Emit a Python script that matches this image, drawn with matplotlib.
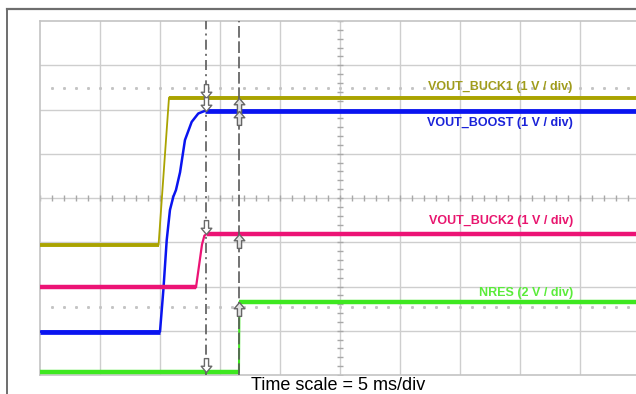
import numpy as np
import matplotlib
matplotlib.use("Agg")
import matplotlib.pyplot as plt
from matplotlib.path import Path
from matplotlib.lines import Line2D

# time in ms (5 ms/div), level in divisions (0 = bottom graticule line)
buck1_t = [0.0, 9.88, 10.75, 50.0]
buck1_v = [2.94, 2.94, 6.27, 6.27]

boost_t = [0.0, 10.0, 10.28, 10.56, 10.83, 11.11, 11.33, 11.67, 12.08, 12.64, 13.19, 13.75, 50.0]
boost_v = [0.98, 0.98, 1.92, 3.05, 3.73, 4.03, 4.18, 4.58, 5.31, 5.72, 5.91, 5.97, 5.97]

buck2_t = [0.0, 13.0, 13.5, 13.7, 13.9, 50.0]
buck2_v = [1.98, 1.98, 2.95, 3.15, 3.19, 3.19]

nres_t = [0.0, 16.58, 16.62, 50.0]
nres_v = [0.06, 0.06, 1.65, 1.65]

cursor1 = 13.83
cursor2 = 16.55
ref_levels = [6.49, 1.54]

labels = ["VOUT_BUCK1 (1 V / div)", "VOUT_BOOST (1 V / div)",
          "VOUT_BUCK2 (1 V / div)", "NRES (2 V / div)"]
label_y = [6.51, 5.69, 3.48, 1.85]

c_buck1 = "#aaa300"
c_boost = "#0a14f0"
c_buck2 = "#ec1375"
c_nres = "#3ee820"
lbl_colors = ["#a09c1c", "#1a22d8", "#e8156e", "#5aec3a"]

plt.rcParams["font.family"] = ["Liberation Sans", "DejaVu Sans"]

fig = plt.figure(figsize=(6.36, 3.94), dpi=100)
W, H = 636, 394
ax = fig.add_axes([40 / W, 19 / H, 600 / W, 354 / H])
ax.set_xlim(0, 50)
ax.set_ylim(0, 8)
ax.set_xticks([])
ax.set_yticks([])
for s in ax.spines.values():
    s.set_color("#c4c4c4")
    s.set_linewidth(1.2)

grid_c = "#cecece"
for x in np.arange(5, 50, 5):
    ax.axvline(x, color=grid_c, lw=1, zorder=1)
for y in np.arange(1, 8):
    ax.axhline(y, color=grid_c, lw=1, zorder=1)

# minor ticks on the centre cross
xt = np.arange(0, 51, 1.0)
ax.plot(xt, np.full_like(xt, 4.0), ls="none", marker="|", ms=4.5, mew=1, color="#a8a8a8", zorder=1)
yt = np.arange(0, 8.01, 0.2)
ax.plot(np.full_like(yt, 25.0), yt, ls="none", marker="_", ms=5, mew=1, color="#a8a8a8", zorder=1)

# dotted reference levels
for lv in ref_levels:
    ax.plot(xt[1:], np.full(len(xt) - 1, lv), ls="none", marker="s", ms=1.1, color="#c4c4c4", zorder=1)

# traces: thin edges, thick flat parts
traces = [(buck1_t, buck1_v, c_buck1, 2.8, 1.3),
          (boost_t, boost_v, c_boost, 3.4, 1.8),
          (buck2_t, buck2_v, c_buck2, 3.2, 1.6),
          (nres_t, nres_v, c_nres, 3.2, 1.5)]
for t, v, c, lw_flat, lw_edge in traces:
    ax.plot(t, v, color=c, lw=lw_edge, zorder=3, solid_joinstyle="round")
    ax.plot(t[:2], v[:2], color=c, lw=lw_flat, zorder=3, solid_capstyle="butt")
    ax.plot(t[-2:], v[-2:], color=c, lw=lw_flat, zorder=3, solid_capstyle="butt")

# cursors
ax.plot([cursor1, cursor1], [0, 8], color="#5a5a5a", lw=1.2, dashes=(6, 2.5, 1.2, 2.5), zorder=4)
ax.plot([cursor2, cursor2], [0, 8], color="#5a5a5a", lw=1.2, dashes=(7, 2.2), zorder=4)

# block arrow markers, tip at the data point
down = Path([(0, 0), (-0.38, 0.45), (-0.15, 0.45), (-0.15, 1.0), (0.15, 1.0),
             (0.15, 0.45), (0.38, 0.45), (0, 0)], closed=True)
up = Path([(x, -y) for x, y in down.vertices], closed=True)

down_tips = [6.27, 5.97, 3.19, 0.06]
up_tips = [6.27, 5.97, 3.19, 1.65]
ax.plot([cursor1] * 4, down_tips, ls="none", marker=down, ms=20, mfc="white",
        mec="#6a6a6a", mew=1, zorder=5)
ax.plot([cursor2] * 4, up_tips, ls="none", marker=up, ms=20, mfc="#e2e2e2",
        mec="#666666", mew=1, zorder=5)

for txt, y, c in zip(labels, label_y, lbl_colors):
    ax.text(44.4, y, txt, color=c, fontsize=9, fontweight="bold",
            ha="right", va="center", zorder=6)

fig.text(338 / W, 1 - 386 / H, "Time scale = 5 ms/div", fontsize=13,
         ha="center", va="center", color="black")

# outer frame
fig.add_artist(Line2D([7 / W, 1.0], [1 - 9 / H, 1 - 9 / H], color="#6e6e6e", lw=1.6))
fig.add_artist(Line2D([7 / W, 7 / W], [0, 1 - 9 / H], color="#6e6e6e", lw=1.4))

fig.savefig("out.png", dpi=100)
